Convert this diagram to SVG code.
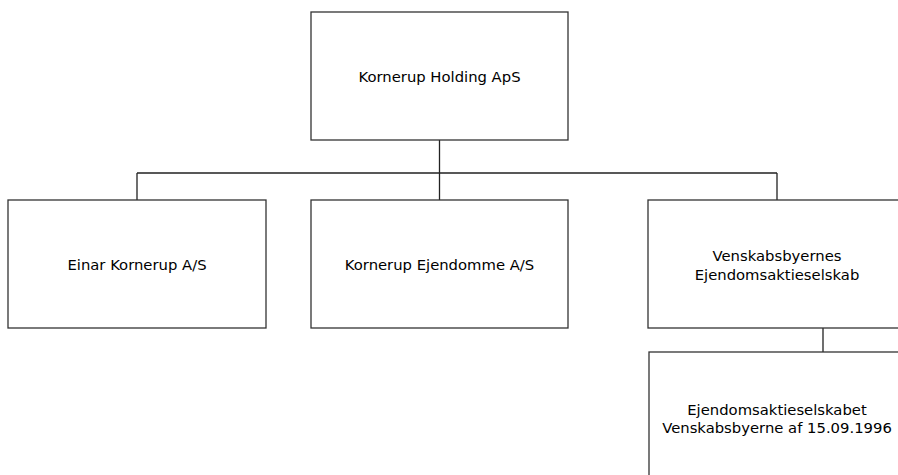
<svg xmlns="http://www.w3.org/2000/svg" width="898" height="475" viewBox="0 0 898 475">
<style>
.box{fill:#fff;stroke:#333;stroke-width:1.3}
.lbl{font-family:"DejaVu Sans",Verdana,sans-serif;font-size:14.8px;fill:#000;text-anchor:middle;dominant-baseline:central}
.con{stroke:#222;stroke-width:1.3;fill:none}
</style>
<rect width="898" height="475" fill="#fff"/>
<g id="connectors">
<path class="con" d="M439.5 140V173M137 173H777M137 173V200M439.5 173V200M777 173V200M823 328V352"/>
</g>
<g id="n1"><rect class="box" x="311" y="12" width="257" height="128"/><text class="lbl" x="439.5" y="76">Kornerup Holding ApS</text></g>
<g id="n2"><rect class="box" x="8" y="200" width="258" height="128"/><text class="lbl" x="137" y="264">Einar Kornerup A/S</text></g>
<g id="n3"><rect class="box" x="311" y="200" width="257" height="128"/><text class="lbl" x="439.5" y="264">Kornerup Ejendomme A/S</text></g>
<g id="n4"><rect class="box" x="648" y="200" width="258" height="128"/><text class="lbl" x="777" y="255">Venskabsbyernes</text><text class="lbl" x="777" y="274">Ejendomsaktieselskab</text></g>
<g id="n5"><rect class="box" x="649" y="352" width="300" height="140"/><text class="lbl" x="777" y="409">Ejendomsaktieselskabet</text><text class="lbl" x="777" y="427">Venskabsbyerne af 15.09.1996</text></g>
</svg>
